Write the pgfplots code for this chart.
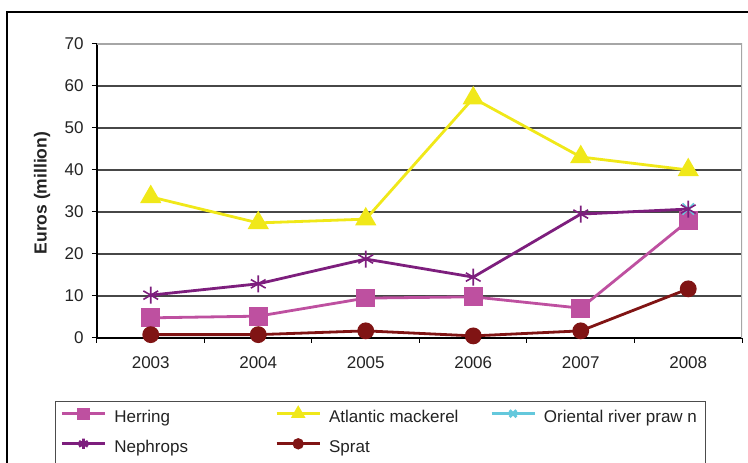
\documentclass[border=0pt]{standalone}
\usepackage{pgfplots}
\pgfplotsset{compat=1.18}
\usepackage{fontspec}
\setmainfont{Liberation Sans}
\definecolor{herring}{RGB}{190,80,160}
\definecolor{mackerel}{RGB}{240,232,25}
\definecolor{prawn}{RGB}{100,200,220}
\definecolor{nephrops}{RGB}{125,30,125}
\definecolor{sprat}{RGB}{128,20,20}
\definecolor{txt}{RGB}{35,35,35}
\begin{document}%
\begin{tikzpicture}[x=1pt,y=1pt,font=\fontsize{17}{20}\selectfont]
\begin{axis}[
  name=ax,
  at={(0,0)}, anchor=south west,
  scale only axis, width=645pt, height=294pt,
  xmin=-0.5, xmax=5.5, ymin=0, ymax=70,
  axis x line*=bottom, axis y line*=left,
  axis line style={black, line width=1.2pt},
  xtick={0,1,2,3,4,5},
  xticklabels={2003,2004,2005,2006,2007,2008},
  major x tick style={draw=none},
  minor xtick={-0.5,0.5,1.5,2.5,3.5,4.5,5.5},
  ytick={0,10,20,30,40,50,60},
  extra y ticks={70},
  extra y tick style={grid=none},
  tick align=outside,
  major tick length=5pt, minor tick length=5pt,
  tick style={black, line width=1pt},
  ymajorgrids=true,
  grid style={black!72, line width=1.1pt},
  /pgf/number format/assume math mode=true,
  ticklabel style={font=\fontsize{17}{20}\selectfont, text=txt},
  xticklabel style={yshift=-10pt},
  yticklabel style={xshift=-5pt},
  ylabel={\bfseries Euros (million)},
  ylabel style={at={(axis description cs:-0.0853,0.493)}, anchor=center, font=\fontsize{17.5}{20}\selectfont, text=txt},
  legend columns=3,
  legend style={at={(-0.0651,-0.2143)}, anchor=north west,
    draw=black!70, line width=1pt, inner xsep=5pt, inner ysep=6.5pt,
    font=\fontsize{17}{20}\selectfont, text=txt,
    nodes={inner sep=0pt, text height=12pt, text depth=4pt, anchor=west},
    /tikz/every odd column/.style={column sep=8pt},
    /tikz/row sep=12pt},
  legend image code/.code={%
    \draw[mark repeat=2, mark phase=2, mark options={solid, scale=0.6}]
      plot coordinates {(0pt,5pt) (21.5pt,5pt) (43pt,5pt)};},
  every axis plot/.append style={line width=2.8pt},
]
\addplot[color=herring, mark=square*, mark size=8pt, mark options={solid}]
  coordinates {(0,4.8) (1,5.2) (2,9.5) (3,9.8) (4,7.1) (5,27.9)};
\addlegendentry{\makebox[161pt][l]{Herring}}
\addplot[color=mackerel, mark=triangle*, mark size=9.5pt, mark options={solid}]
  coordinates {(0,33.6) (1,27.4) (2,28.3) (3,57.1) (4,43.1) (5,40.0)};
\addlegendentry{\makebox[161pt][l]{Atlantic mackerel}}
\addplot[color=prawn, mark=x, mark size=8pt, mark options={solid, line width=1.5pt}]
  coordinates {(5,30.7)};
\addlegendentry{\makebox[157pt][l]{Oriental river praw n}}
\addplot[color=nephrops, mark=asterisk, mark size=8.5pt, mark options={solid, line width=1.6pt}]
  coordinates {(0,10.2) (1,12.9) (2,18.8) (3,14.5) (4,29.5) (5,30.7)};
\addlegendentry{\makebox[161pt][l]{Nephrops}}
\addplot[color=sprat, mark=*, mark size=7pt, mark options={solid}]
  coordinates {(0,0.8) (1,0.8) (2,1.7) (3,0.5) (4,1.7) (5,11.7)};
\addlegendentry{\makebox[161pt][l]{Sprat}}
\draw[black!35, line width=1.5pt] (rel axis cs:0,1) -- (rel axis cs:1,1) -- (rel axis cs:1,0);
\end{axis}
\draw[black, line width=1.3pt] ([shift={(-90pt,-150pt)}]ax.south west) -- ([shift={(-90pt,326pt)}]ax.south west) -- ([shift={(700pt,326pt)}]ax.south west);
\pgfresetboundingbox
\path[use as bounding box] ([shift={(-97pt,-125pt)}]ax.south west) rectangle ([shift={(651pt,338pt)}]ax.south west);
\end{tikzpicture}%
\end{document}
